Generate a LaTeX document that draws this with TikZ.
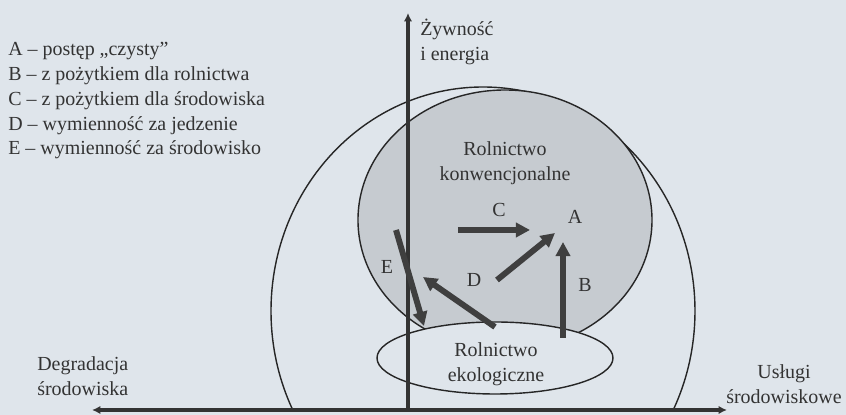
\documentclass[tikz,border=0pt]{standalone}
\usepackage{fontspec}
\setmainfont{Liberation Serif}
\usetikzlibrary{arrows.meta}
\definecolor{BgPaper}{HTML}{DFE5EB}
\definecolor{FillConv}{HTML}{C6CBD0}
\definecolor{InkDark}{HTML}{333333}
\definecolor{ArrowDark}{HTML}{3F3F3F}

\begin{document}
\begin{tikzpicture}[
  font=\fontsize{14.2}{17.6}\selectfont,
  txt/.style={text=InkDark, inner sep=0pt, align=center},
  axis/.style={line width=3pt, InkDark},
  move/.style={line width=4.2pt, ArrowDark, -{Triangle[length=10pt, width=10pt]}},
  ring/.style={line width=1pt, black!85},
  >={Latex[length=6pt, width=6pt]}]
\fill[BgPaper] (-10.2,-0.125) rectangle (10.95,10.25);
\useasboundingbox (-10.2,-0.125) rectangle (10.95,10.25);

% outer range, cut at the horizontal axis
\begin{scope}
  \clip (-10.2,0) rectangle (10.95,10.25);
  \draw[ring] (1.875,2.475) ellipse [x radius=5.3, y radius=5.6];
\end{scope}
\draw[ring, fill=FillConv] (2.425,4.75) ellipse [x radius=3.675, y radius=3.25];
\draw[ring, fill=BgPaper] (2.175,1.3) ellipse [x radius=2.95, y radius=0.9];

\node[txt] (conv) at (2.425,6.175) {Rolnictwo\\konwencjonalne};
\node[txt] (eco) at (2.2,1.15) {Rolnictwo\\ekologiczne};

% axes
\coordinate (O) at (0,0);
\coordinate (yTop) at (0,9.925);
\coordinate (xL) at (-7.9,0);
\coordinate (xR) at (7.975,0);
\draw[axis, ->] (O) -- (yTop);
\draw[axis, <->] (xL) -- (xR);

\node[txt, anchor=west, align=left] (food) at (0.3,9.2) {Żywność\\i energia};
\node[txt, anchor=west, align=left] (degr) at (-9.275,0.85) {Degradacja\\środowiska};
\node[txt] (serv) at (9.4,0.65) {Usługi\\środowiskowe};

\node[txt, anchor=west, align=left] (legend) at (-10.0,7.725) {%
  A – postęp „czysty”\\
  B – z pożytkiem dla rolnictwa\\
  C – z pożytkiem dla środowiska\\
  D – wymienność za jedzenie\\
  E – wymienność za środowisko};

% shifts of the frontier
\coordinate (cS) at (1.25,4.5);
\coordinate (cE) at (3.05,4.5);
\coordinate (dS) at (2.225,3.25);
\coordinate (dE) at (3.675,4.425);
\coordinate (bS) at (3.875,1.8);
\coordinate (bE) at (3.875,4.2);
\coordinate (fS) at (2.175,2.075);
\coordinate (fE) at (0.375,3.325);
\coordinate (eS) at (-0.3,4.5);
\coordinate (eE) at (0.4,2.1);
\draw[move] (cS) -- (cE);
\draw[move] (dS) -- (dE);
\draw[move] (bS) -- (bE);
\draw[move] (fS) -- (fE);
\draw[move] (eS) -- (eE);

\node[txt] (lC) at (2.275,5.0) {C};
\node[txt] (lA) at (4.175,4.825) {A};
\node[txt] (lD) at (1.65,3.25) {D};
\node[txt] (lB) at (4.425,3.125) {B};
\node[txt] (lE) at (-0.525,3.575) {E};
\end{tikzpicture}
\end{document}
